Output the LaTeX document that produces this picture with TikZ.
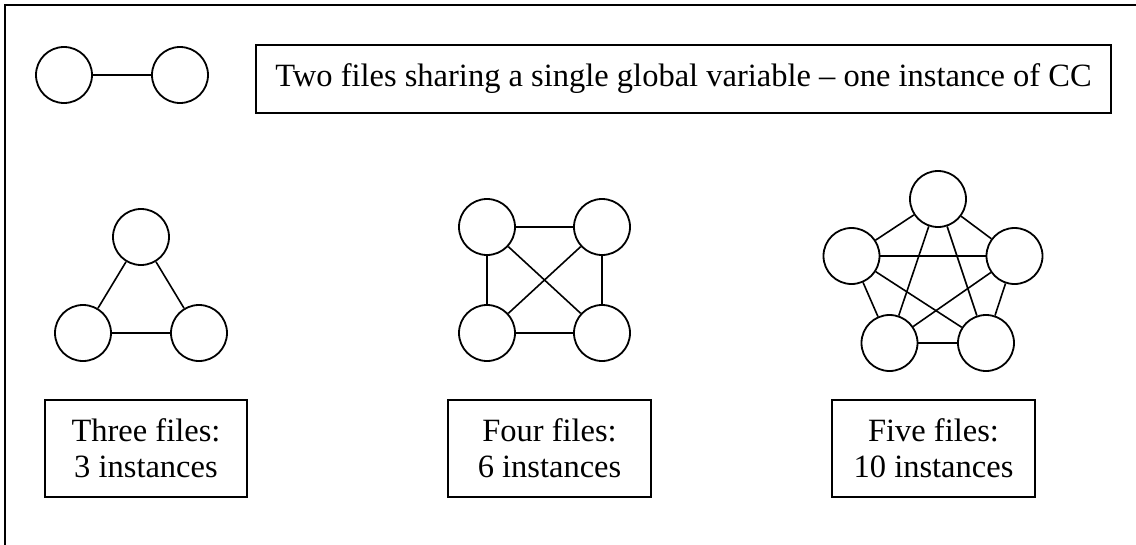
\documentclass[tikz,border=0pt]{standalone}
\usepackage{fontspec}
\setmainfont{Liberation Serif}
\usetikzlibrary{positioning}

\begin{document}
\begin{tikzpicture}[x=1pt, y=-1pt,
    file/.style={draw, circle, line width=1.8pt, minimum size=56pt, inner sep=0pt},
    share/.style={line width=1.6pt},
    caption/.style={draw, line width=1.6pt, align=center, inner sep=0pt,
        font=\fontsize{32.5}{36}\selectfont}]
    \useasboundingbox (0,0) rectangle (1136,544);
    % Frame
    \draw[line width=2.6pt] (5,560) -- (5,5) -- (1150,5);

    % Two files
    \node[file] (a1) at (64,75) {};
    \node[file] (a2) at (180,75) {};
    \draw[share] (a1) -- (a2);
    \node[caption, minimum width=855pt, minimum height=68pt] (ctwo) at (683.5,79)
        {Two files sharing a single global variable -- one instance of CC};

    % Three files
    \node[file] (b1) at (141,237) {};
    \node[file] (b2) at (83,333) {};
    \node[file] (b3) at (199,333) {};
    \draw[share] (b1) -- (b2);
    \draw[share] (b1) -- (b3);
    \draw[share] (b2) -- (b3);
    \node[caption, minimum width=202pt, minimum height=97pt] (cthree) at (146,448.5)
        {Three files:\\3 instances};

    % Four files
    \node[file] (c1) at (487,227) {};
    \node[file] (c2) at (602,227) {};
    \node[file] (c3) at (487,333) {};
    \node[file] (c4) at (602,333) {};
    \draw[share] (c1) -- (c2);
    \draw[share] (c3) -- (c4);
    \draw[share] (c1) -- (c3);
    \draw[share] (c2) -- (c4);
    \draw[share] (c1) -- (c4);
    \draw[share] (c2) -- (c3);
    \node[caption, minimum width=203pt, minimum height=97pt] (cfour) at (549.5,448.5)
        {Four files:\\6 instances};

    % Five files
    \node[file] (d1) at (938,199) {};
    \node[file] (d2) at (851.5,256) {};
    \node[file] (d3) at (1014.5,256) {};
    \node[file] (d4) at (889.5,343) {};
    \node[file] (d5) at (986,343) {};
    \draw[share] (d1) -- (d2);
    \draw[share] (d1) -- (d3);
    \draw[share] (d1) -- (d4);
    \draw[share] (d1) -- (d5);
    \draw[share] (d2) -- (d3);
    \draw[share] (d2) -- (d4);
    \draw[share] (d2) -- (d5);
    \draw[share] (d3) -- (d4);
    \draw[share] (d3) -- (d5);
    \draw[share] (d4) -- (d5);
    \node[caption, minimum width=203pt, minimum height=97pt] (cfive) at (933.5,448.5)
        {Five files:\\10 instances};
\end{tikzpicture}
\end{document}
